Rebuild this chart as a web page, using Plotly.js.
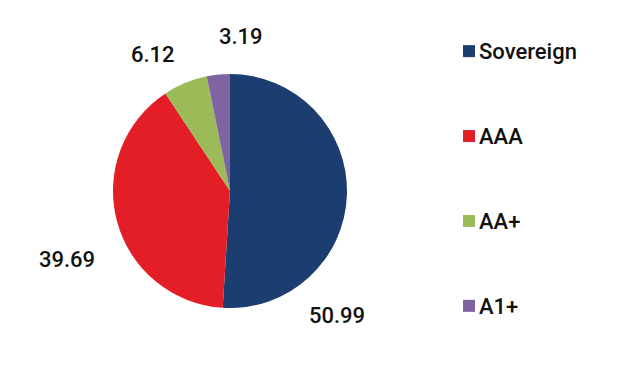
<!DOCTYPE html>
<html>
<head>
<meta charset="utf-8">
<script src="https://cdn.plot.ly/plotly-3.0.1.min.js"></script>
<style>html,body{margin:0;padding:0;background:#fff;}#chart{width:617px;height:391px;}</style>
</head>
<body>
<div id="chart"></div>
<script>
var categories = ["Sovereign", "AAA", "AA+", "A1+"];
var values = [50.99, 39.69, 6.12, 3.19];
var colors = ["#1B3D70", "#E31E26", "#9BBB59", "#8064A2"];
// label anchor positions in pixels (x, y from top)
var labelPx = [[337, 315], [67, 259], [153, 55], [241, 37]];

var W = 617, H = 391;
var cx = 230, cy = 191, r = 117;

var legendLabels = categories.map(function (c) {
  return '<span style="font-size:22px">' + c + '</span><br> <br> ';
});

var trace = {
  type: "pie",
  labels: legendLabels,
  values: values,
  sort: false,
  direction: "clockwise",
  rotation: 0,
  marker: { colors: colors, line: { width: 0 } },
  textinfo: "none",
  hoverinfo: "none",
  domain: {
    x: [(cx - r) / W, (cx + r) / W],
    y: [(H - cy - r) / H, (H - cy + r) / H]
  }
};

var annotations = values.map(function (v, i) {
  return {
    xref: "paper", yref: "paper",
    x: labelPx[i][0] / W, y: 1 - labelPx[i][1] / H,
    xanchor: "center", yanchor: "middle",
    text: v.toFixed(2), showarrow: false,
    font: { family: "Roboto", size: 22, weight: 500, color: "#111111" }
  };
});

var layout = {
  width: W, height: H,
  margin: { l: 0, r: 0, t: 0, b: 0 },
  paper_bgcolor: "#ffffff",
  showlegend: true,
  legend: {
    x: 449 / W, xanchor: "left",
    y: 1 - 31 / H, yanchor: "top",
    valign: "top",
    font: { family: "Roboto", size: 21, weight: 500, color: "#111111" },
    bgcolor: "rgba(0,0,0,0)"
  },
  annotations: annotations,
  font: { family: "Roboto" }
};

Plotly.newPlot("chart", [trace], layout, { displayModeBar: false, staticPlot: true }).then(function (gd) {
  var texts = gd.querySelectorAll(".legend .legendtext");
  texts.forEach(function (t) { t.setAttribute("transform", "translate(-10,0)"); });
});
</script>
</body>
</html>
